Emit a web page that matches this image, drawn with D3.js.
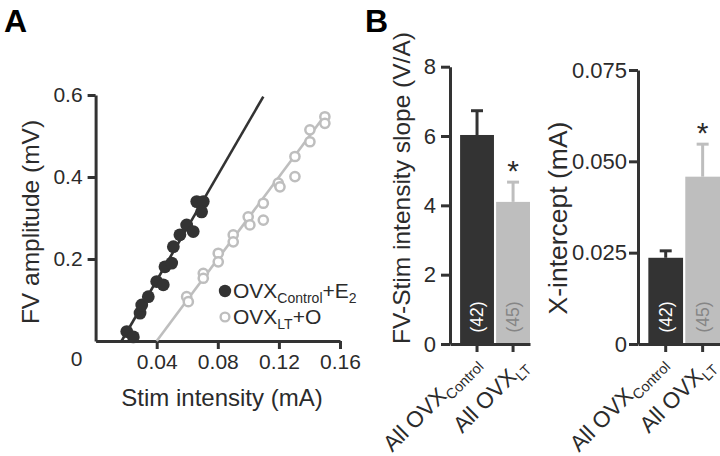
<!DOCTYPE html>
<html>
<head>
<meta charset="utf-8">
<script src="https://cdn.jsdelivr.net/npm/d3@7"></script>
<style>
  body { margin: 0; background: #fff; }
  svg { font-family: "Liberation Sans", Arial, sans-serif; }
  .axis path, .axis line { stroke: #333; stroke-width: 3; }
  .axis text { font-size: 21px; fill: #2b2b2b; font-family: "Liberation Sans", Arial, sans-serif; }
  .axisB text { font-size: 22px; }
</style>
</head>
<body>
<svg id="chart" width="720" height="456"></svg>
<script>
// ---- panel A: FV amplitude vs stim intensity ----
let ctrlX = [0.0204, 0.0247, 0.0291, 0.0302, 0.0345, 0.0400, 0.0443, 0.0454,
             0.0498, 0.0509, 0.0552, 0.0596, 0.0639, 0.0662, 0.0705, 0.0694];
let ctrlY = [0.023, 0.010, 0.068, 0.088, 0.108, 0.145, 0.137, 0.181,
             0.190, 0.230, 0.259, 0.283, 0.267, 0.340, 0.340, 0.315];
let ltX = [0.0596, 0.0607, 0.0705, 0.0705, 0.0803, 0.0803, 0.0901, 0.0901, 0.0999, 0.1010,
           0.1098, 0.1098, 0.1196, 0.1207, 0.1305, 0.1305, 0.1403, 0.1403, 0.1501, 0.1501];
let ltY = [0.108, 0.096, 0.165, 0.153, 0.214, 0.193, 0.259, 0.242, 0.303, 0.283,
           0.336, 0.295, 0.385, 0.376, 0.450, 0.401, 0.515, 0.486, 0.547, 0.531];
// fitted lines (end points)
let ctrlFitX = [0.017, 0.1098];
let ctrlFitY = [0, 0.596];
let ltFitX = [0.040, 0.1510];
let ltFitY = [0, 0.555];
let xTicksA = [0.04, 0.08, 0.12, 0.16];
let yTicksA = [0.2, 0.4, 0.6];

// ---- panel B: group summaries ----
let groups = ["ctrl", "lt"];
let groupN = [42, 45];
let slopeMean = [6.03, 4.10];
let slopeSem = [0.70, 0.57];
let xintMean = [0.0236, 0.0458];
let xintSem = [0.0019, 0.0089];
let slopeTicks = [0, 2, 4, 6, 8];
let xintTicks = [0, 0.025, 0.050, 0.075];

let dark = "#333333", light = "#bebebe", ink = "#2b2b2b";

let svg = d3.select("#chart");

// panel letters
svg.append("text").text("A").attr("x", 4).attr("y", 32)
  .style("font-size", "32px").style("font-weight", "bold").attr("fill", "#000");
svg.append("text").text("B").attr("x", 365).attr("y", 32)
  .style("font-size", "32px").style("font-weight", "bold").attr("fill", "#000");

// ================= panel A =================
let xA = d3.scaleLinear().domain([0, 0.16]).range([95.6, 340]);
let yA = d3.scaleLinear().domain([0, 0.6]).range([341, 95]);

svg.append("g").attr("class", "axis")
  .attr("transform", "translate(0," + yA(0) + ")")
  .call(d3.axisBottom(xA).tickValues(xTicksA).tickSize(8).tickSizeOuter(0)
    .tickPadding(5).tickFormat(d3.format(".2f")));

svg.append("g").attr("class", "axis")
  .attr("transform", "translate(" + xA(0) + ",0)")
  .call(d3.axisLeft(yA).tickValues(yTicksA).tickSize(8).tickSizeOuter(0)
    .tickPadding(5).tickFormat(d3.format(".1f")));

// shared origin label
svg.append("text").text("0")
  .attr("x", xA(0) - 19).attr("y", yA(0) + 25)
  .attr("text-anchor", "middle").style("font-size", "21px").attr("fill", ink);

// axis titles
svg.append("text").text("Stim intensity (mA)")
  .attr("x", 222).attr("y", 406).attr("text-anchor", "middle")
  .style("font-size", "24px").attr("fill", ink);
svg.append("text").text("FV amplitude (mV)")
  .attr("transform", "translate(39,222) rotate(-90)")
  .attr("text-anchor", "middle").style("font-size", "24.5px").attr("fill", ink);

// fit lines
let line = d3.line().x(d => xA(d[0])).y(d => yA(d[1]));
svg.append("path").datum(d3.zip(ltFitX, ltFitY)).attr("d", line)
  .attr("stroke", light).attr("stroke-width", 2.6).attr("fill", "none");
svg.append("path").datum(d3.zip(ctrlFitX, ctrlFitY)).attr("d", line)
  .attr("stroke", dark).attr("stroke-width", 2.6).attr("fill", "none");

// points
svg.append("g").selectAll("circle").data(d3.zip(ltX, ltY)).join("circle")
  .attr("cx", d => xA(d[0])).attr("cy", d => yA(d[1])).attr("r", 4.6)
  .attr("fill", "#fff").attr("stroke", light).attr("stroke-width", 2.5);
svg.append("g").selectAll("circle").data(d3.zip(ctrlX, ctrlY)).join("circle")
  .attr("cx", d => xA(d[0])).attr("cy", d => yA(d[1])).attr("r", 6.4)
  .attr("fill", dark);

// legend
let lg = svg.append("g");
lg.append("circle").attr("cx", 225).attr("cy", 291).attr("r", 6.2).attr("fill", dark);
lg.append("circle").attr("cx", 225).attr("cy", 317).attr("r", 4.4)
  .attr("fill", "#fff").attr("stroke", light).attr("stroke-width", 2.4);
let l1 = lg.append("text").attr("x", 233).attr("y", 298).attr("fill", ink).style("font-size", "21px");
l1.append("tspan").text("OVX");
l1.append("tspan").text("Control").attr("dy", 5).style("font-size", "14px");
l1.append("tspan").text("+E").attr("dy", -5);
l1.append("tspan").text("2").attr("dy", 5).style("font-size", "14px");
let l2 = lg.append("text").attr("x", 233).attr("y", 324).attr("fill", ink).style("font-size", "21px");
l2.append("tspan").text("OVX");
l2.append("tspan").text("LT").attr("dy", 5).style("font-size", "14px");
l2.append("tspan").text("+O").attr("dy", -5);

// ================= panel B =================
function barPanel(cfg) {
  let g = svg.append("g");
  let x = d3.scaleBand().domain(groups).range([cfg.left, cfg.right])
    .paddingInner(0.06).paddingOuter(0.14).align(1);
  let y = d3.scaleLinear().domain(cfg.domain).range([344, cfg.top]);

  let rows = groups.map((k, i) => ({ key: k, mean: cfg.mean[i], sem: cfg.sem[i], n: groupN[i] }));
  let col = k => k === "ctrl" ? dark : light;

  // bars
  g.selectAll("rect").data(rows).join("rect")
    .attr("x", d => x(d.key)).attr("width", x.bandwidth())
    .attr("y", d => y(d.mean)).attr("height", d => y(0) - y(d.mean))
    .attr("fill", d => col(d.key));

  // error bars (upper only)
  let cx = d => x(d.key) + x.bandwidth() / 2;
  g.selectAll(".err").data(rows).join("line").attr("class", "err")
    .attr("x1", cx).attr("x2", cx)
    .attr("y1", d => y(d.mean)).attr("y2", d => y(d.mean + d.sem))
    .attr("stroke", d => col(d.key)).attr("stroke-width", 3);
  g.selectAll(".cap").data(rows).join("line").attr("class", "cap")
    .attr("x1", d => cx(d) - 6).attr("x2", d => cx(d) + 6)
    .attr("y1", d => y(d.mean + d.sem)).attr("y2", d => y(d.mean + d.sem))
    .attr("stroke", d => col(d.key)).attr("stroke-width", 3);

  // significance star
  g.append("text").text("*")
    .attr("x", cx(rows[1])).attr("y", y(rows[1].mean + rows[1].sem) - 1)
    .attr("text-anchor", "middle").style("font-size", "30px").attr("fill", ink);

  // n labels
  g.selectAll(".n").data(rows).join("text").attr("class", "n")
    .text(d => "(" + d.n + ")")
    .attr("transform", d => "translate(" + cx(d) + ",317) rotate(-90)")
    .attr("text-anchor", "middle").attr("dominant-baseline", "central")
    .style("font-size", "17.5px")
    .attr("fill", d => d.key === "ctrl" ? "#fff" : "#858585");

  // axes
  g.append("g").attr("class", "axis axisB")
    .attr("transform", "translate(" + cfg.left + ",0)")
    .call(d3.axisLeft(y).tickValues(cfg.ticks).tickSize(9).tickSizeOuter(0)
      .tickPadding(cfg.pad).tickFormat(cfg.fmt));
  g.append("g").attr("class", "axis")
    .attr("transform", "translate(0," + y(0) + ")")
    .call(d3.axisBottom(x).tickSize(8).tickSizeOuter(0).tickFormat(""));

  // rotated category labels
  let labs = g.selectAll(".cat").data(rows).join("text").attr("class", "cat")
    .attr("transform", (d, i) => "translate(" + (cx(d) + cfg.labDx[i]) + "," + (364 + i * 3) + ") rotate(-45)")
    .attr("text-anchor", "end").attr("fill", ink).style("font-size", "22.5px");
  labs.append("tspan").text("All OVX");
  labs.append("tspan").text(d => d.key === "ctrl" ? "Control" : "LT")
    .attr("dy", 5).style("font-size", "14.5px");

  // y title
  g.append("text").text(cfg.title)
    .attr("transform", "translate(" + cfg.titleX + "," + cfg.titleY + ") rotate(-90)")
    .attr("text-anchor", "middle").attr("dominant-baseline", "central")
    .style("font-size", cfg.titleSize).attr("fill", ink);
}

barPanel({
  left: 450, right: 530, top: 66.7, domain: [0, 8],
  mean: slopeMean, sem: slopeSem, ticks: slopeTicks, pad: 5, fmt: d3.format("d"),
  labDx: [4, 16], title: "FV-Stim intensity slope (V/A)",
  titleX: 401, titleY: 188, titleSize: "24.5px"
});
barPanel({
  left: 638, right: 720, top: 70, domain: [0, 0.075],
  mean: xintMean, sem: xintSem, ticks: xintTicks, pad: 2,
  fmt: d => d === 0 ? "0" : d3.format(".3f")(d),
  labDx: [2, 13], title: "X-intercept (mA)",
  titleX: 558, titleY: 218, titleSize: "26.5px"
});
</script>
</body>
</html>
